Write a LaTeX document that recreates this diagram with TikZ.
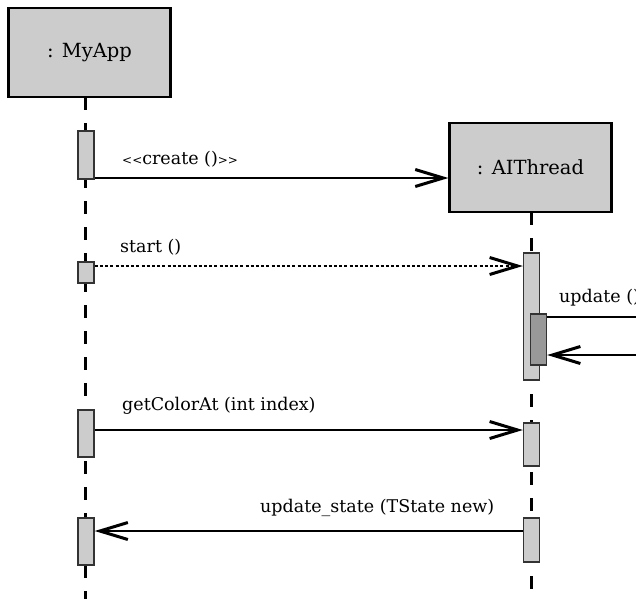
\documentclass[tikz,border=0pt]{standalone}
\usepackage{fontspec}
\setmainfont{DejaVu Serif}
\usetikzlibrary{arrows.meta}
\definecolor{boxgray}{gray}{0.8}
\definecolor{nestgray}{gray}{0.6}
\newcommand{\smallang}[1]{{\fontsize{12}{14}\selectfont #1}}
\tikzset{
  obj/.style={draw=black, line width=2.2pt, fill=boxgray, minimum width=162pt, minimum height=89pt, inner sep=0pt, font=\fontsize{19.5}{22}\selectfont},
  act/.style={draw=black!80, line width=1.4pt, fill=boxgray, minimum width=16pt, inner sep=0pt},
  nact/.style={act, fill=nestgray},
  life/.style={line width=3pt, dash pattern=on 13pt off 13pt},
  msg/.style={line width=2.2pt, -{Straight Barb[length=28pt,width=17pt,line width=3pt]}},
  dmsg/.style={msg, dash pattern=on 3pt off 2.2pt},
  lbl/.style={inner sep=0pt, font=\fontsize{17.5}{20}\selectfont, anchor=base west},
}
\begin{document}
\begin{tikzpicture}[x=1pt,y=-1pt]
\useasboundingbox (0,0) rectangle (636,598);
\clip (0,0) rectangle (636,598);
% objects
\node[obj] (myapp) at (89.5,52.5) {: MyApp};
\node[obj] (ait) at (530.5,167.5) {: AIThread};
\coordinate (myappend) at (85,600);
\coordinate (aitend) at (531,600);
% lifelines
\draw[life] (85,97) -- (myappend);
\draw[life] (531,212) -- (aitend);
% activations MyApp
\node[act, minimum height=48pt] (m1) at (86,155) {};
\node[act, minimum height=21pt] (m2) at (86,272.5) {};
\node[act, minimum height=47pt] (m3) at (86,433.5) {};
\node[act, minimum height=47pt] (m4) at (86,541.5) {};
% activations AIThread
\node[act, minimum height=127pt] (t1) at (531.5,316.5) {};
\node[nact, minimum height=51pt] (t2) at (538.5,339.5) {};
\node[act, minimum height=43pt] (t3) at (531.5,444.5) {};
\node[act, minimum height=44pt] (t4) at (531.5,540) {};
\coordinate (selfout) at (640,317);
\coordinate (selfin) at (640,355);
% messages
\draw[msg] (m1.east |- 0,178) -- (ait.west |- 0,178);
\node[lbl] (l1) at (122,164) {\smallang{<{}<}create ()\smallang{>{}>}};
\draw[dmsg] (m2.east |- 0,266) -- (t1.west |- 0,266);
\node[lbl] (l2) at (120,252) {start ()};
\draw[line width=2.2pt] (t2.east |- 0,317) -- (selfout);
\draw[msg] (selfin) -- (t2.east |- 0,355);
\node[lbl] (l3) at (559,302) {update ()};
\draw[msg] (m3.east |- 0,430) -- (t3.west |- 0,430);
\node[lbl] (l4) at (122,410) {getColorAt (int index)};
\draw[msg] (t4.west |- 0,531) -- (m4.east |- 0,531);
\node[lbl] (l5) at (260,512) {update\_state (TState new)};
\end{tikzpicture}
\end{document}
